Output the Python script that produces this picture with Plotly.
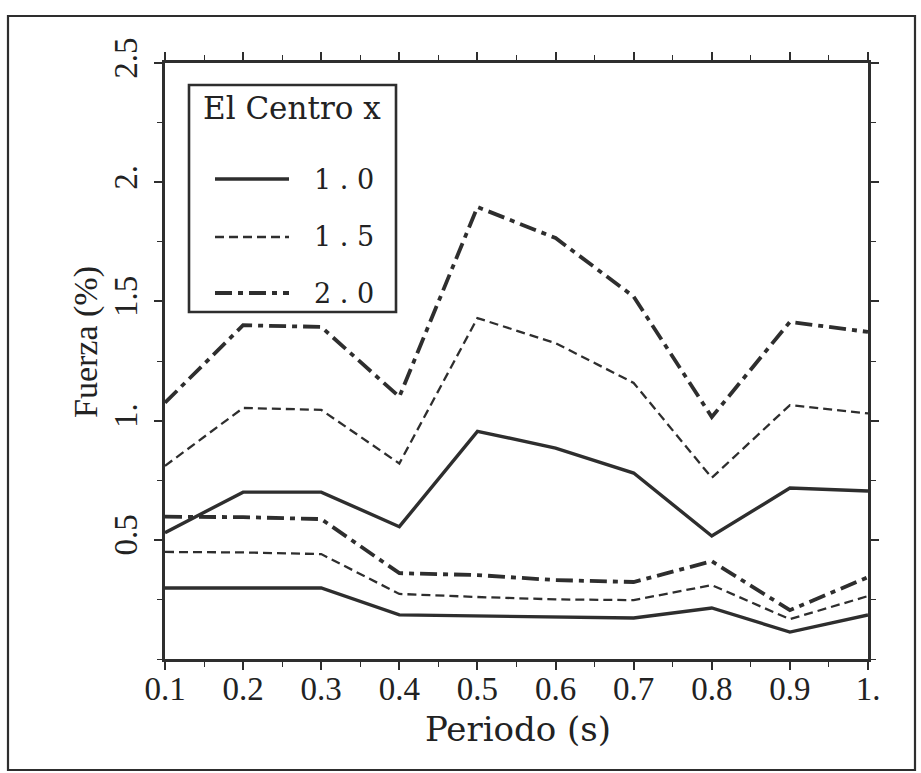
import plotly.graph_objects as go

# ---- data ----
periodo = [0.1, 0.2, 0.3, 0.4, 0.5, 0.6, 0.7, 0.8, 0.9, 1.0]
x_ticktext = ["0.1", "0.2", "0.3", "0.4", "0.5", "0.6", "0.7", "0.8", "0.9", "1."]
y_tickvals = [0.5, 1.0, 1.5, 2.0, 2.5]
y_ticktext = ["0.5", "1.", "1.5", "2.", "2.5"]

f10_sup = [0.53, 0.70, 0.70, 0.555, 0.955, 0.885, 0.78, 0.516, 0.717, 0.705]
f15_sup = [0.81, 1.053, 1.045, 0.82, 1.43, 1.325, 1.158, 0.76, 1.065, 1.03]
f20_sup = [1.075, 1.40, 1.393, 1.10, 1.896, 1.766, 1.52, 1.015, 1.414, 1.372]

f10_inf = [0.298, 0.298, 0.298, 0.185, 0.18, 0.176, 0.172, 0.214, 0.113, 0.185]
f15_inf = [0.449, 0.447, 0.44, 0.273, 0.26, 0.25, 0.247, 0.31, 0.167, 0.264]
f20_inf = [0.597, 0.595, 0.587, 0.36, 0.352, 0.331, 0.323, 0.41, 0.205, 0.343]

legend_title = "El Centro x"
legend_labels = ["1 . 0", "1 . 5", "2 . 0"]

# ---- styles ----
INK = "#2e2e2e"
styles = [
    dict(color=INK, width=3.4, dash="solid"),
    dict(color=INK, width=2.3, dash="9px,5px"),
    dict(color=INK, width=3.8, dash="17px,6px,5px,6px"),
]

fig = go.Figure()
for name, ys, st in [
    ("1.0", f10_sup, styles[0]), ("1.5", f15_sup, styles[1]), ("2.0", f20_sup, styles[2]),
    ("1.0", f10_inf, styles[0]), ("1.5", f15_inf, styles[1]), ("2.0", f20_inf, styles[2]),
]:
    fig.add_trace(go.Scatter(x=periodo, y=ys, mode="lines", name=name,
                             line=st, showlegend=False))

# plot area in pixels
L, R, T, B = 165, 868, 63, 659
W, H = 921, 773


def px(xp):
    return (xp - L) / (R - L)


def py(yp):
    return (B - yp) / (B - T)


shapes = []
annotations = []

# outer frame
shapes.append(dict(type="rect", xref="paper", yref="paper",
                   x0=px(8), x1=px(915), y0=py(16), y1=py(770),
                   line=dict(color=INK, width=2.2)))

# manual legend
shapes.append(dict(type="rect", xref="paper", yref="paper",
                   x0=px(189), x1=px(396), y0=py(85), y1=py(312),
                   line=dict(color=INK, width=2.6), fillcolor="white"))
annotations.append(dict(text=legend_title, xref="paper", yref="paper",
                        x=px(292), y=py(108), showarrow=False,
                        xanchor="center", yanchor="middle",
                        font=dict(family="DejaVu Serif", size=31, color="#222")))
for i, (lab, st) in enumerate(zip(legend_labels, styles)):
    yy = [179, 237, 293][i]
    shapes.append(dict(type="line", xref="paper", yref="paper",
                       x0=px(215), x1=px(289), y0=py(yy), y1=py(yy),
                       line=dict(color=st["color"], width=st["width"], dash=st["dash"])))
    annotations.append(dict(text=lab, xref="paper", yref="paper",
                            x=px(312), y=py(yy), showarrow=False,
                            xanchor="left", yanchor="middle",
                            font=dict(family="DejaVu Serif", size=27, color="#222")))

# axis titles
annotations.append(dict(text="Periodo (s)", xref="paper", yref="paper",
                        x=px(518), y=py(729), showarrow=False,
                        xanchor="center", yanchor="middle",
                        font=dict(family="DejaVu Serif", size=34, color="#222")))
annotations.append(dict(text="Fuerza (%)", xref="paper", yref="paper",
                        x=px(86), y=py(342), showarrow=False, textangle=-90,
                        xanchor="center", yanchor="middle",
                        font=dict(family="Liberation Serif", size=34, color="#222")))

fig.update_layout(
    width=W, height=H,
    margin=dict(l=L, r=W - R, t=T, b=H - B),
    paper_bgcolor="white", plot_bgcolor="white",
    shapes=shapes, annotations=annotations,
    showlegend=False,
)

fig.update_xaxes(
    range=[0.1, 1.0], tickvals=periodo, ticktext=x_ticktext,
    showgrid=False, zeroline=False,
    showline=True, linecolor=INK, linewidth=3.4, mirror="allticks",
    ticks="outside", ticklen=8, tickwidth=1.5, tickcolor=INK,
    minor=dict(dtick=0.05, tick0=0.1, ticks="outside", ticklen=5, tickwidth=1.2, tickcolor=INK),
    tickfont=dict(family="Liberation Serif", size=33, color="#222"),
    ticklabelstandoff=-10,
)
fig.update_yaxes(
    range=[0, 2.5], tickvals=y_tickvals, ticktext=y_ticktext,
    showgrid=False, zeroline=False,
    showline=True, linecolor=INK, linewidth=3.4, mirror="allticks",
    ticks="outside", ticklen=8, tickwidth=1.5, tickcolor=INK,
    minor=dict(dtick=0.25, tick0=0, ticks="outside", ticklen=5, tickwidth=1.2, tickcolor=INK),
    tickfont=dict(family="Liberation Serif", size=33, color="#222"),
    tickangle=-90, ticklabelstandoff=4,
)

fig.write_html("out.html")
